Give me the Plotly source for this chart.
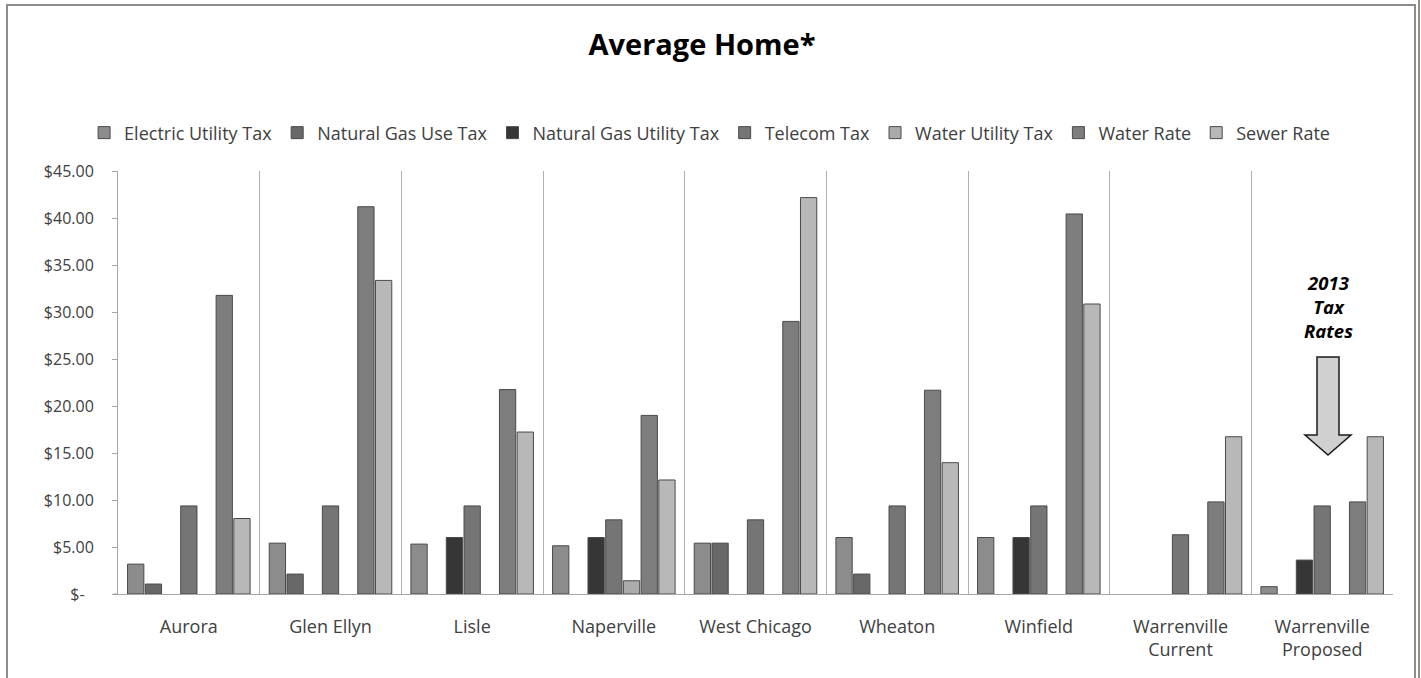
import plotly.graph_objects as go

categories = ["Aurora", "Glen Ellyn", "Lisle", "Naperville", "West Chicago",
              "Wheaton", "Winfield", "Warrenville<br>Current", "Warrenville<br>Proposed"]

series_names = ["Electric Utility Tax", "Natural Gas Use Tax", "Natural Gas Utility Tax",
                "Telecom Tax", "Water Utility Tax", "Water Rate", "Sewer Rate"]

# None = no bar drawn for that town
electric_utility_tax = [3.18, 5.41, 5.31, 5.13, 5.41, 6.01, 6.01, None, 0.78]
natural_gas_use_tax = [1.06, 2.12, None, None, 5.41, 2.12, None, None, None]
natural_gas_utility_tax = [None, None, 6.01, 6.01, None, None, 6.01, None, 3.61]
telecom_tax = [9.37, 9.37, 9.37, 7.89, 7.89, 9.37, 9.37, 6.30, 9.37]
water_utility_tax = [None, None, None, 1.41, None, None, None, None, None]
water_rate = [31.77, 41.20, 21.75, 19.00, 29.00, 21.68, 40.43, 9.80, 9.80]
sewer_rate = [8.03, 33.36, 17.23, 12.13, 42.17, 13.97, 30.85, 16.73, 16.73]

series_values = [electric_utility_tax, natural_gas_use_tax, natural_gas_utility_tax,
                 telecom_tax, water_utility_tax, water_rate, sewer_rate]
series_colors = ["#8c8c8c", "#686868", "#363636", "#757575", "#ababab", "#7d7d7d", "#b8b8b8"]

tick_values = [0, 5, 10, 15, 20, 25, 30, 35, 40, 45]
tick_labels = ["$-\u2007", "$5.00", "$10.00", "$15.00", "$20.00", "$25.00",
               "$30.00", "$35.00", "$40.00", "$45.00"]

FONT = "'Open Sans', Lato, sans-serif"

fig = go.Figure()
for name, vals, col in zip(series_names, series_values, series_colors):
    fig.add_trace(go.Bar(
        x=categories, y=vals, name=name,
        marker=dict(color=col, line=dict(color="#4a4a4a", width=1)),
    ))

fig.update_layout(
    width=1421, height=678,
    paper_bgcolor="white", plot_bgcolor="white",
    margin=dict(l=118, r=28, t=171, b=84),
    barmode="group", bargap=0.125, bargroupgap=0.08,
    font=dict(family=FONT, size=16, color="#404040"),
    title=dict(text="<b>Average Home*</b>", x=(702) / 1421, xanchor="center",
               y=1 - 45 / 678, yanchor="middle",
               font=dict(family=FONT, size=29, color="black")),
    legend=dict(orientation="h", x=0.464, xanchor="center", y=1.09, yanchor="middle",
                font=dict(family=FONT, size=18, color="#404040"),
                itemwidth=30, tracegroupgap=0, traceorder="normal"),
    showlegend=True,
)

fig.update_xaxes(
    type="category", tickson="boundaries", ticks="",
    showgrid=True, gridcolor="#b0b0b0", gridwidth=1,
    showline=True, linecolor="#a6a6a6", linewidth=1,
    ticklabelstandoff=16,
    tickfont=dict(family=FONT, size=18, color="#404040"),
)
fig.update_yaxes(
    range=[0, 45], tickvals=tick_values, ticktext=tick_labels,
    ticks="outside", ticklen=5, tickcolor="#a6a6a6",
    showgrid=False, zeroline=False,
    showline=True, linecolor="#a6a6a6", linewidth=1,
    ticklabelstandoff=15,
    tickfont=dict(family=FONT, size=16, color="#404040"),
)

def px(x):
    return (x - 118) / 1275

def py(y):
    return (594 - y) / 423

# outer chart border
fig.add_shape(type="rect", xref="paper", yref="paper",
              x0=px(7), x1=px(1415), y0=py(720), y1=py(5),
              line=dict(color="#8c8c8c", width=2), fillcolor="rgba(0,0,0,0)", layer="below")
fig.add_shape(type="line", xref="paper", yref="paper",
              x0=px(1419), x1=px(1419), y0=py(720), y1=py(0),
              line=dict(color="#7a6a5a", width=1.5))
# x-axis line extends slightly left of the value axis
fig.add_shape(type="line", xref="paper", yref="paper",
              x0=px(113), x1=0, y0=0, y1=0,
              line=dict(color="#a6a6a6", width=1))

# block arrow
arrow_path = (f"M {px(1317)} {py(357)} L {px(1339)} {py(357)} L {px(1339)} {py(435)} "
              f"L {px(1351)} {py(435)} L {px(1328)} {py(455)} L {px(1305)} {py(435)} "
              f"L {px(1317)} {py(435)} Z")
fig.add_shape(type="path", xref="paper", yref="paper", path=arrow_path,
              fillcolor="#d0d0d0", line=dict(color="#1a1a1a", width=1.5))

fig.add_annotation(xref="paper", yref="paper", x=px(1328), y=py(306),
                   xanchor="center", yanchor="middle",
                   text="<b><i>2013<br>Tax<br>Rates</i></b>", showarrow=False,
                   font=dict(family=FONT, size=18.5, color="black"), align="center")

fig.write_html("out.html", config={"displayModeBar": False},
               post_script="document.body.style.margin='0';")
